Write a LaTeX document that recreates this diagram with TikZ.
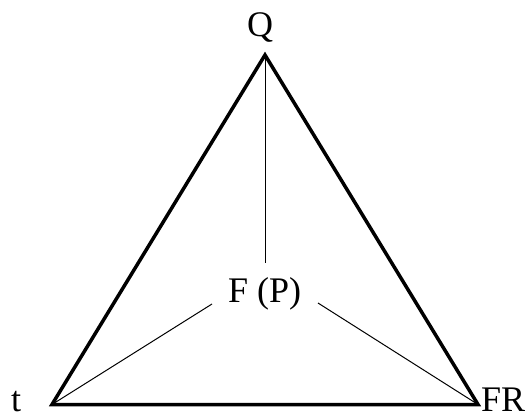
\documentclass[tikz,border=0pt]{standalone}
\usepackage{fontspec}
\setmainfont{Liberation Serif}
\begin{document}
\begin{tikzpicture}[x=1pt,y=-1pt,
  lbl/.style={inner sep=0pt,anchor=base west,font=\fontsize{36}{40}\selectfont},
  edge/.style={line width=3.5pt,line join=miter},
  thin/.style={line width=1pt}]
\useasboundingbox (0,0) rectangle (531,415);
\coordinate (A) at (265,55);
\coordinate (B) at (52,404.5);
\coordinate (C) at (478,404.5);
\coordinate (mid) at (265,263);
\coordinate (lend) at (212,304);
\coordinate (rend) at (318,303);
\node[lbl] (q) at (247,37) {Q};
\node[lbl] (t) at (11,411) {t};
\node[lbl] (fr) at (481,411) {FR};
\node[lbl] (fp) at (228,302) {F (P)};
\draw[edge] (A) -- (B) -- (C) -- cycle;
\draw[thin] (A) -- (mid);
\draw[thin] (B) -- (lend);
\draw[thin] (C) -- (rend);
\end{tikzpicture}
\end{document}
